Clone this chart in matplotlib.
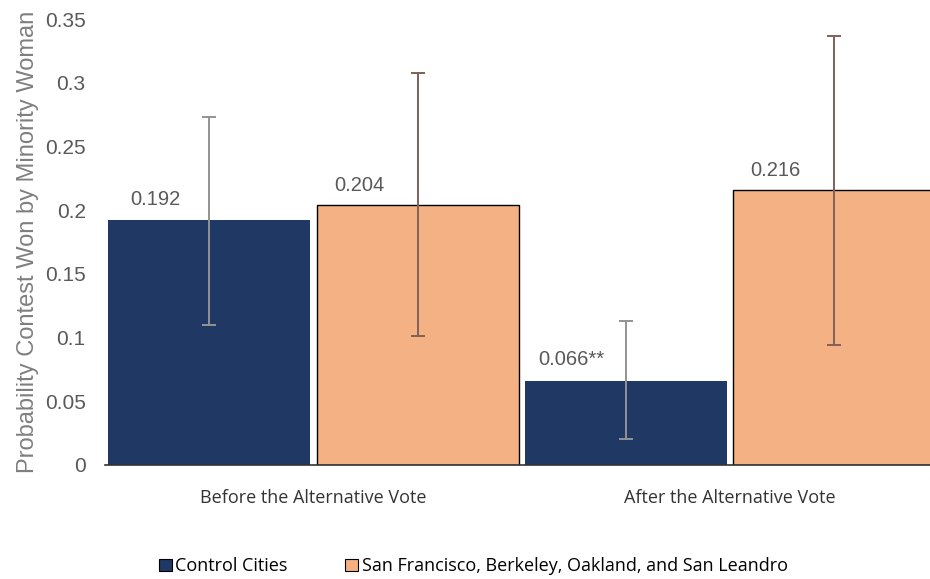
import matplotlib.pyplot as plt
import numpy as np

# before / after the alternative vote
groups = ["Before the Alternative Vote", "After the Alternative Vote"]
series = ["Control Cities", "San Francisco, Berkeley, Oakland, and San Leandro"]

control = [0.192, 0.066]
bay_area = [0.204, 0.216]
value_labels_control = ["0.192", "0.066**"]
value_labels_bay = ["0.204", "0.216"]

# confidence interval bounds
control_lo = [0.110, 0.020]
control_hi = [0.273, 0.113]
bay_lo = [0.101, 0.094]
bay_hi = [0.308, 0.337]

navy = "#203864"
peach = "#F4B183"
grey_txt = "#7f7f7f"
arial = "Liberation Sans"

fig = plt.figure(figsize=(9.3, 5.79), dpi=100)
ax = fig.add_axes([0.113, 0.197, 0.887, 0.77])

x = np.arange(len(groups))
w = 0.485
off = 0.25

ctrl_err = [np.array(control) - np.array(control_lo), np.array(control_hi) - np.array(control)]
bay_err = [np.array(bay_area) - np.array(bay_lo), np.array(bay_hi) - np.array(bay_area)]

ax.bar(x - off, control, w, color=navy, label=series[0], zorder=2)
ax.bar(x + off, bay_area, w, color=peach, edgecolor="black", linewidth=1.0,
       label=series[1], zorder=2)
ax.errorbar(x - off, control, yerr=ctrl_err, fmt="none", ecolor="#939393",
            elinewidth=1.4, capsize=5, capthick=1.4, zorder=3)
ax.errorbar(x + off, bay_area, yerr=bay_err, fmt="none", ecolor="#806058",
            elinewidth=1.4, capsize=5, capthick=1.4, zorder=3)

for xi, v, t in zip(x - off, control, value_labels_control):
    ax.text(xi - 0.13, v + 0.009, t, ha="center", va="bottom",
            fontsize=14.5, family=arial, color="#595959")
for xi, v, t in zip(x + off, bay_area, value_labels_bay):
    ax.text(xi - 0.14, v + 0.008, t, ha="center", va="bottom",
            fontsize=14.5, family=arial, color="#595959")

ax.set_xlim(-0.5, 1.48)
ax.set_ylim(0, 0.35)
ax.set_yticks(np.arange(0, 0.351, 0.05))
ax.set_yticklabels(["0", "0.05", "0.1", "0.15", "0.2", "0.25", "0.3", "0.35"],
                   family=arial, fontsize=15)
ax.set_xticks(x)
ax.set_xticklabels(groups, fontsize=13, family="Open Sans", color="#333333")
ax.tick_params(axis="y", length=0, labelcolor="#595959", pad=14)
ax.tick_params(axis="x", length=0, pad=17)
ax.set_ylabel("Probability Contest Won by Minority Woman", fontsize=17,
              family=arial, color=grey_txt, labelpad=4)

for s in ["top", "right", "left"]:
    ax.spines[s].set_visible(False)
ax.spines["bottom"].set_color("#333333")
ax.spines["bottom"].set_linewidth(1.2)

handles = [
    plt.Rectangle((0, 0), 1, 1, facecolor=navy, edgecolor="black", linewidth=0.8),
    plt.Rectangle((0, 0), 1, 1, facecolor=peach, edgecolor="black", linewidth=0.8),
]
fig.legend(handles, series, loc="center", bbox_to_anchor=(0.509, 0.022),
           ncol=2, frameon=False, handlelength=0.7, handleheight=0.7,
           handletextpad=0.2, columnspacing=3.2,
           prop={"family": "Open Sans", "size": 13})

fig.savefig("out.png", dpi=100, facecolor="white")
